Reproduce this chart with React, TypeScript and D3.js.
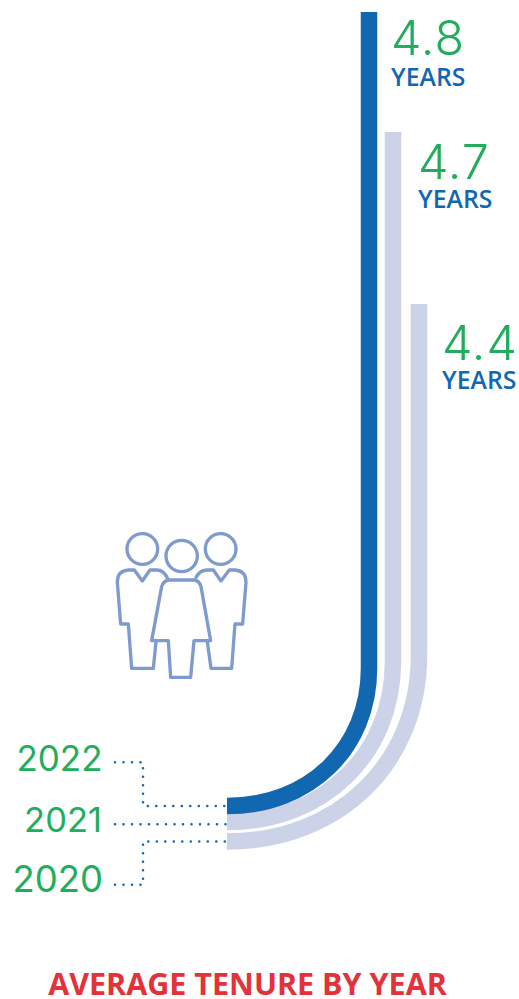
import React from "react";
import * as d3 from "d3";

const years = ["2022", "2021", "2020"];
const tenure = [4.8, 4.7, 4.4];
const unitLabel = "YEARS";
const chartTitle = "AVERAGE TENURE BY YEAR";

const WIDTH = 519;
const HEIGHT = 999;
const BAND = 16.5;
const STEM_END_X = 227;
const BEND_HEIGHT = 0.97; // bend height relative to its width
const BEND_PULL = 0.58; // bezier handle length relative to the bend size

const GREEN = "#22ad5c";
const BLUE = "#1267b1";
const PALE = "#ccd3e8";
const ICON = "#7f9bcd";
const RED = "#e2323a";
const NUMBER_FONT = "Inter, 'Open Sans', sans-serif";
const LABEL_FONT = "'Open Sans', sans-serif";

// Top of each stripe from its tenure value.
const topY = d3.scaleLinear().domain([4.4, 4.7, 4.8]).range([304, 132, 12]);
// Stripe placement per year: upright centre line and foot centre line.
const stripeX = d3.scaleOrdinal<string, number>().domain(years).range([369, 393, 419]);
const footY = d3.scaleOrdinal<string, number>().domain(years).range([806, 822, 841.5]);
const strokeColor = d3.scaleOrdinal<string, string>().domain(years).range([BLUE, PALE, PALE]);

function stripePath(year: string, value: number): string {
  const x = stripeX(year);
  const foot = footY(year);
  const r = x - STEM_END_X;
  const bendStart = foot - r * BEND_HEIGHT;
  const p = d3.path();
  p.moveTo(x, topY(value));
  p.lineTo(x, bendStart);
  p.bezierCurveTo(
    x,
    bendStart + (foot - bendStart) * BEND_PULL,
    STEM_END_X + r * BEND_PULL,
    foot,
    STEM_END_X,
    foot
  );
  return p.toString();
}

// Dotted leaders from each year label to its stripe foot.
function leaderPath(year: string, labelY: number): string {
  const p = d3.path();
  const end = footY(year);
  p.moveTo(115, labelY);
  if (Math.abs(labelY - end) > 3) {
    p.lineTo(143, labelY);
    p.lineTo(143, end);
    p.lineTo(STEM_END_X, end);
  } else {
    p.lineTo(STEM_END_X, labelY);
  }
  return p.toString();
}

const yearLabelY = d3.scaleOrdinal<string, number>().domain(years).range([762.3, 824.3, 884.7]);
const yearBaseline = d3.scaleOrdinal<string, number>().domain(years).range([771, 832, 892]);
const yearRight = d3.scaleOrdinal<string, number>().domain(years).range([102.5, 102, 103]);
const yearSize = d3.scaleOrdinal<string, number>().domain(years).range([35, 34.5, 36.5]);

// Value callouts sit to the right of each stripe's top.
const calloutX = d3.scaleOrdinal<string, number>().domain(years).range([391, 418, 442]);
const valueBase = d3.scaleOrdinal<string, number>().domain(years).range([55, 179, 360]);
const unitBase = d3.scaleOrdinal<string, number>().domain(years).range([86, 208, 389]);

function People() {
  return (
    <g
      transform="translate(100,520) scale(0.3333)"
      fill="none"
      stroke={ICON}
      strokeWidth={10}
      strokeLinejoin="round"
      strokeLinecap="round"
    >
      <circle cx={127} cy={87} r={46} />
      <circle cx={245} cy={108} r={47} />
      <circle cx={362} cy={87} r={46} />
      <path d="M203,176 Q192,150 170,150 L150,150 L127,183 L103,150 L85,150 Q52,152 52,187 L62,312 L85,312 L95,445 L160,445 L168,365" />
      <path d="M288,172 Q300,150 322,150 L340,150 L363,183 L388,150 L405,150 Q438,152 438,187 L428,312 L405,312 L395,445 L333,445 L322,365" />
      <path d="M208,180 L282,180 Q298,182 303,200 L332,362 L282,362 L272,472 L212,472 L205,362 L155,362 L185,200 Q190,182 208,180 Z" />
    </g>
  );
}

export default function App() {
  return (
    <svg
      width={WIDTH}
      height={HEIGHT}
      viewBox={`0 0 ${WIDTH} ${HEIGHT}`}
      style={{ position: "absolute", top: 0, left: 0, display: "block", background: "#fff" }}
    >
      {[...years].reverse().map((year) => {
        const value = tenure[years.indexOf(year)];
        return (
          <path
            key={year}
            d={stripePath(year, value)}
            fill="none"
            stroke={strokeColor(year)}
            strokeWidth={BAND}
          />
        );
      })}

      {years.map((year) => (
        <path
          key={year}
          d={leaderPath(year, yearLabelY(year))}
          fill="none"
          stroke={BLUE}
          strokeWidth={2.6}
          strokeLinecap="round"
          strokeDasharray="0 8.5"
        />
      ))}

      {years.map((year) => (
        <text
          key={year}
          x={yearRight(year)}
          y={yearBaseline(year)}
          textAnchor="end"
          fontFamily={NUMBER_FONT}
          fontWeight={400}
          fontSize={yearSize(year)}
          fill={GREEN}
        >
          {year}
        </text>
      ))}

      {years.map((year, i) => (
        <g key={year}>
          <text
            x={calloutX(year)}
            y={valueBase(year)}
            fontFamily={NUMBER_FONT}
            fontWeight={300}
            fontSize={48.5}
            letterSpacing={1}
            fill={GREEN}
          >
            {tenure[i].toFixed(1)}
          </text>
          <text
            x={calloutX(year)}
            y={unitBase(year)}
            fontFamily={LABEL_FONT}
            fontWeight={600}
            fontSize={24.8}
            fill={BLUE}
          >
            {unitLabel}
          </text>
        </g>
      ))}

      <People />

      <text
        x={247.5}
        y={995}
        textAnchor="middle"
        fontFamily={LABEL_FONT}
        fontWeight={700}
        fontSize={30.5}
        fill={RED}
      >
        {chartTitle}
      </text>
    </svg>
  );
}
